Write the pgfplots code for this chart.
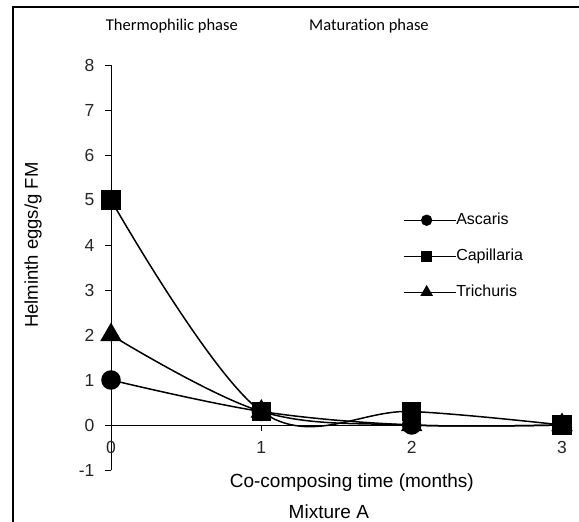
\documentclass[border=0pt]{standalone}
\usepackage{fontspec}
\setmainfont{Liberation Sans}
\newfontfamily\calibri[Ligatures=NoCommon]{Carlito}
\usepackage{pgfplots}
\pgfplotsset{compat=1.18}
\begin{document}
\begin{tikzpicture}
\useasboundingbox (0pt,0pt) rectangle (579pt,522pt);
\draw[line width=2pt] (13pt,-5pt) -- (13pt,515pt) -- (590pt,515pt);
\begin{axis}[
  at={(111pt,52pt)}, anchor=south west,
  scale only axis, width=451pt, height=405pt,
  xmin=0, xmax=3, ymin=-1, ymax=8,
  axis x line=middle, axis y line=left,
  hide obscured x ticks=false,
  axis line style={-, line width=0.8pt},
  xtick={0,1,2,3}, ytick={-1,0,...,8},
  tick align=outside, major tick length=6pt,
  tick style={black, line width=0.8pt},
  tick label style={font=\fontsize{17.5}{17.5}\selectfont, text=black!85},
  xticklabel style={yshift=-7pt},
  yticklabel style={xshift=-7pt},
  /pgf/number format/assume math mode=true,
  clip=false,
  xlabel={Co-composing time (months)},
  xlabel style={at={(rel axis cs:0.534,-0.0444)}, anchor=base, font=\fontsize{19}{19}\selectfont, inner sep=0pt},
  ylabel={Helminth eggs/g FM},
  ylabel style={at={(rel axis cs:-0.162,0.555)}, anchor=base, font=\fontsize{18.5}{18.5}\selectfont, inner sep=0pt},
  legend style={at={(rel axis cs:0.647,0.637)}, anchor=north west, draw=none, fill=none,
    font=\fontsize{16}{16}\selectfont, row sep=20pt, inner sep=0pt,
    nodes={inner sep=0pt, text height=12pt, text depth=4pt}},
  legend cell align=left,
  legend image code/.code={\draw[mark repeat=2, mark phase=2, mark size=5pt] plot coordinates {(0pt,0pt) (23pt,0pt) (47pt,0pt)}; \path (47pt,0pt) -- (52pt,0pt);},
]
\addplot[black, line width=1.5pt, smooth, tension=0.6, mark=*, mark size=9pt, mark options={fill=black, solid}, forget plot] coordinates {(0,1) (1,0.3) (2,0) (3,0)};
\addplot[black, line width=1.5pt, smooth, tension=0.6, mark=triangle*, mark size=11pt, mark options={fill=black, solid}, forget plot] coordinates {(0,2) (1,0.3) (2,0) (3,0)};
\addplot[black, line width=1.5pt, smooth, tension=0.6, mark=square*, mark size=9pt, mark options={fill=black, solid}, forget plot] coordinates {(0,5) (1,0.3) (2,0.3) (3,0)};
\addlegendimage{black, line width=1.3pt, mark=*, mark options={fill=black, solid}}
\addlegendentry{Ascaris}
\addlegendimage{black, line width=1.3pt, mark=square*, mark options={fill=black, solid}}
\addlegendentry{Capillaria}
\addlegendimage{black, line width=1.3pt, mark=triangle*, mark options={fill=black, solid, scale=1.2}}
\addlegendentry{Trichuris}
\node[anchor=base, font=\fontsize{19}{19}\selectfont] at (rel axis cs:0.483,-0.119) {Mixture A};
\node[anchor=base, font=\calibri\fontsize{16.5}{16.5}\selectfont] at (rel axis cs:0.135,1.085) {Thermophilic phase};
\node[anchor=base, font=\calibri\fontsize{16.5}{16.5}\selectfont] at (rel axis cs:0.572,1.085) {Maturation phase};
\end{axis}
\end{tikzpicture}
\end{document}
